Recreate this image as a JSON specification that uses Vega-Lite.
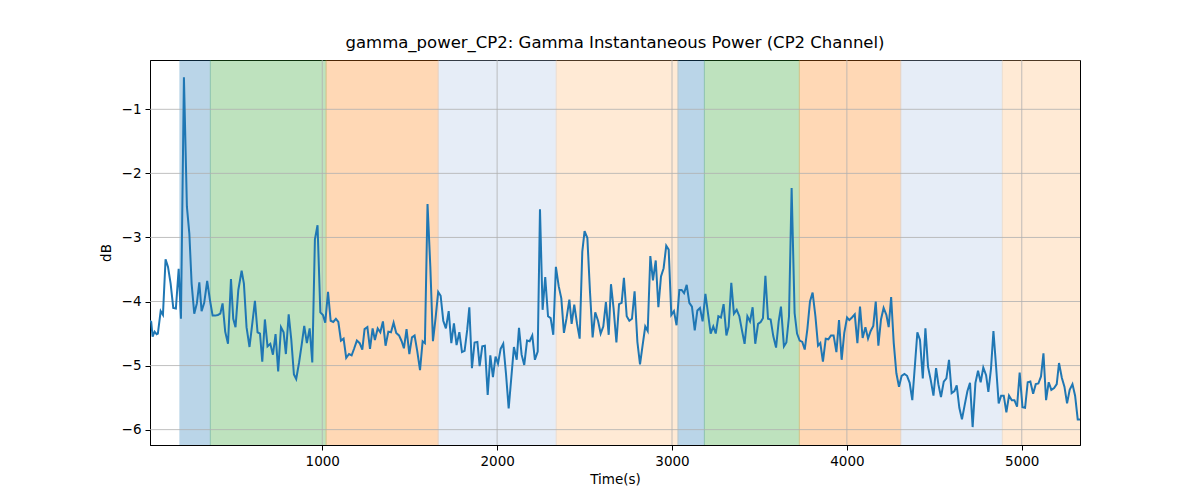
{
  "$schema": "https://vega.github.io/schema/vega-lite/v6.json",
  "width": 930,
  "height": 385,
  "autosize": {"type": "none"},
  "padding": {"left": 150, "top": 60, "right": 120, "bottom": 55},
  "background": "white",
  "title": {"text": "gamma_power_CP2: Gamma Instantaneous Power (CP2 Channel)", "fontSize": 16.5, "fontWeight": "normal", "font": "DejaVu Sans", "color": "black", "offset": 8},
  "config": {
    "font": "DejaVu Sans",
    "view": {"stroke": "black", "strokeWidth": 1},
    "axis": {
      "labelFont": "DejaVu Sans", "labelFontSize": 13.5, "labelColor": "black",
      "titleFont": "DejaVu Sans", "titleFontSize": 13.5, "titleFontWeight": "normal", "titleColor": "black",
      "tickColor": "black", "tickSize": 5, "labelPadding": 4,
      "domainColor": "black", "grid": false
    }
  },
  "datasets": {
    "spans": [
      {"start": 186, "end": 360, "phase": "a"},
      {"start": 360, "end": 1022, "phase": "b"},
      {"start": 1022, "end": 1663, "phase": "c"},
      {"start": 1663, "end": 2338, "phase": "d"},
      {"start": 2338, "end": 3034, "phase": "e"},
      {"start": 3034, "end": 3185, "phase": "a"},
      {"start": 3185, "end": 3728, "phase": "b"},
      {"start": 3728, "end": 4308, "phase": "c"},
      {"start": 4308, "end": 4889, "phase": "d"},
      {"start": 4889, "end": 5333, "phase": "e"}
    ],
    "xgrid": [{"t": 1000}, {"t": 2000}, {"t": 3000}, {"t": 4000}, {"t": 5000}],
    "ygrid": [{"db": -6}, {"db": -5}, {"db": -4}, {"db": -3}, {"db": -2}, {"db": -1}],
    "power": [
      {"t": 15, "db": -4.30}, {"t": 22, "db": -4.32}, {"t": 30, "db": -4.55}, {"t": 41, "db": -4.47}, {"t": 53, "db": -4.51},
      {"t": 60, "db": -4.50}, {"t": 76, "db": -4.15}, {"t": 89, "db": -4.21}, {"t": 104, "db": -3.34}, {"t": 118, "db": -3.46},
      {"t": 133, "db": -3.72}, {"t": 148, "db": -4.10}, {"t": 163, "db": -4.11}, {"t": 179, "db": -3.49}, {"t": 192, "db": -4.27},
      {"t": 209, "db": -0.50}, {"t": 226, "db": -2.52}, {"t": 240, "db": -2.94}, {"t": 253, "db": -3.72}, {"t": 268, "db": -4.19},
      {"t": 283, "db": -4.03}, {"t": 297, "db": -3.70}, {"t": 310, "db": -4.15}, {"t": 325, "db": -4.02}, {"t": 342, "db": -3.68},
      {"t": 358, "db": -3.98}, {"t": 373, "db": -4.22}, {"t": 388, "db": -4.22}, {"t": 403, "db": -4.21}, {"t": 417, "db": -4.19},
      {"t": 430, "db": -4.03}, {"t": 445, "db": -4.47}, {"t": 461, "db": -4.66}, {"t": 478, "db": -3.65}, {"t": 491, "db": -4.27},
      {"t": 504, "db": -4.40}, {"t": 520, "db": -3.82}, {"t": 539, "db": -3.52}, {"t": 552, "db": -3.72}, {"t": 567, "db": -4.40},
      {"t": 584, "db": -4.71}, {"t": 600, "db": -4.34}, {"t": 615, "db": -3.99}, {"t": 630, "db": -4.48}, {"t": 644, "db": -4.50},
      {"t": 657, "db": -4.94}, {"t": 672, "db": -4.28}, {"t": 687, "db": -4.70}, {"t": 703, "db": -4.66}, {"t": 718, "db": -4.83},
      {"t": 733, "db": -4.51}, {"t": 748, "db": -5.09}, {"t": 764, "db": -4.40}, {"t": 779, "db": -4.48}, {"t": 792, "db": -4.82},
      {"t": 808, "db": -4.20}, {"t": 823, "db": -4.60}, {"t": 838, "db": -5.14}, {"t": 851, "db": -5.21}, {"t": 867, "db": -4.96},
      {"t": 882, "db": -4.68}, {"t": 897, "db": -4.38}, {"t": 912, "db": -4.65}, {"t": 928, "db": -4.42}, {"t": 943, "db": -4.95},
      {"t": 958, "db": -3.03}, {"t": 973, "db": -2.81}, {"t": 989, "db": -4.17}, {"t": 1004, "db": -4.21}, {"t": 1017, "db": -4.33},
      {"t": 1033, "db": -3.85}, {"t": 1048, "db": -4.30}, {"t": 1063, "db": -4.32}, {"t": 1078, "db": -4.27}, {"t": 1092, "db": -4.32},
      {"t": 1107, "db": -4.61}, {"t": 1122, "db": -4.58}, {"t": 1137, "db": -4.88}, {"t": 1153, "db": -4.82}, {"t": 1168, "db": -4.84},
      {"t": 1183, "db": -4.73}, {"t": 1198, "db": -4.61}, {"t": 1214, "db": -4.65}, {"t": 1229, "db": -4.75}, {"t": 1242, "db": -4.43},
      {"t": 1258, "db": -4.40}, {"t": 1273, "db": -4.74}, {"t": 1288, "db": -4.42}, {"t": 1301, "db": -4.60}, {"t": 1317, "db": -4.42},
      {"t": 1332, "db": -4.48}, {"t": 1347, "db": -4.31}, {"t": 1362, "db": -4.69}, {"t": 1378, "db": -4.47}, {"t": 1393, "db": -4.48},
      {"t": 1408, "db": -4.33}, {"t": 1423, "db": -4.49}, {"t": 1439, "db": -4.53}, {"t": 1454, "db": -4.62}, {"t": 1467, "db": -4.73},
      {"t": 1482, "db": -4.43}, {"t": 1498, "db": -4.82}, {"t": 1513, "db": -4.56}, {"t": 1528, "db": -4.53}, {"t": 1543, "db": -4.77},
      {"t": 1559, "db": -5.07}, {"t": 1574, "db": -4.62}, {"t": 1587, "db": -4.65}, {"t": 1602, "db": -2.48}, {"t": 1618, "db": -3.46},
      {"t": 1633, "db": -4.62}, {"t": 1648, "db": -4.26}, {"t": 1663, "db": -3.85}, {"t": 1677, "db": -3.91}, {"t": 1692, "db": -4.30},
      {"t": 1707, "db": -4.42}, {"t": 1723, "db": -4.15}, {"t": 1738, "db": -4.65}, {"t": 1753, "db": -4.34}, {"t": 1768, "db": -4.68},
      {"t": 1784, "db": -4.48}, {"t": 1799, "db": -4.79}, {"t": 1814, "db": -4.77}, {"t": 1829, "db": -4.44}, {"t": 1841, "db": -4.09},
      {"t": 1856, "db": -5.04}, {"t": 1871, "db": -4.64}, {"t": 1887, "db": -4.63}, {"t": 1900, "db": -5.01}, {"t": 1915, "db": -4.70},
      {"t": 1930, "db": -4.69}, {"t": 1946, "db": -5.46}, {"t": 1961, "db": -4.84}, {"t": 1976, "db": -5.18}, {"t": 1991, "db": -4.86},
      {"t": 2005, "db": -4.97}, {"t": 2020, "db": -4.74}, {"t": 2035, "db": -4.66}, {"t": 2051, "db": -5.14}, {"t": 2066, "db": -5.67},
      {"t": 2081, "db": -5.19}, {"t": 2096, "db": -4.71}, {"t": 2112, "db": -4.91}, {"t": 2125, "db": -4.41}, {"t": 2140, "db": -4.83},
      {"t": 2155, "db": -4.99}, {"t": 2171, "db": -4.61}, {"t": 2186, "db": -4.62}, {"t": 2201, "db": -4.53}, {"t": 2216, "db": -4.91},
      {"t": 2232, "db": -4.78}, {"t": 2245, "db": -2.56}, {"t": 2260, "db": -4.13}, {"t": 2275, "db": -3.62}, {"t": 2291, "db": -4.23},
      {"t": 2306, "db": -4.26}, {"t": 2321, "db": -4.52}, {"t": 2336, "db": -3.46}, {"t": 2352, "db": -3.76}, {"t": 2367, "db": -3.95},
      {"t": 2382, "db": -4.49}, {"t": 2397, "db": -4.26}, {"t": 2413, "db": -3.97}, {"t": 2426, "db": -4.35}, {"t": 2441, "db": -4.05},
      {"t": 2457, "db": -4.35}, {"t": 2472, "db": -4.58}, {"t": 2487, "db": -3.22}, {"t": 2500, "db": -2.90}, {"t": 2516, "db": -3.01},
      {"t": 2531, "db": -3.85}, {"t": 2546, "db": -4.56}, {"t": 2561, "db": -4.17}, {"t": 2577, "db": -4.30}, {"t": 2592, "db": -4.50},
      {"t": 2607, "db": -4.39}, {"t": 2622, "db": -4.01}, {"t": 2638, "db": -4.52}, {"t": 2651, "db": -3.73}, {"t": 2666, "db": -4.11},
      {"t": 2682, "db": -4.64}, {"t": 2697, "db": -4.04}, {"t": 2712, "db": -4.02}, {"t": 2725, "db": -3.63}, {"t": 2741, "db": -4.23},
      {"t": 2756, "db": -4.30}, {"t": 2771, "db": -4.27}, {"t": 2786, "db": -3.84}, {"t": 2802, "db": -4.63}, {"t": 2817, "db": -4.98},
      {"t": 2832, "db": -4.68}, {"t": 2847, "db": -4.39}, {"t": 2861, "db": -4.46}, {"t": 2876, "db": -3.29}, {"t": 2891, "db": -3.67},
      {"t": 2907, "db": -3.36}, {"t": 2922, "db": -4.09}, {"t": 2937, "db": -3.61}, {"t": 2952, "db": -3.48}, {"t": 2967, "db": -3.13},
      {"t": 2981, "db": -3.19}, {"t": 2996, "db": -4.21}, {"t": 3011, "db": -4.15}, {"t": 3026, "db": -4.37}, {"t": 3042, "db": -3.82},
      {"t": 3055, "db": -3.82}, {"t": 3069, "db": -3.87}, {"t": 3084, "db": -3.74}, {"t": 3099, "db": -4.02}, {"t": 3114, "db": -4.08},
      {"t": 3130, "db": -4.45}, {"t": 3145, "db": -4.14}, {"t": 3160, "db": -4.10}, {"t": 3175, "db": -4.31}, {"t": 3191, "db": -3.88},
      {"t": 3206, "db": -4.19}, {"t": 3221, "db": -4.50}, {"t": 3236, "db": -4.39}, {"t": 3250, "db": -4.50}, {"t": 3265, "db": -4.23},
      {"t": 3280, "db": -4.25}, {"t": 3295, "db": -4.04}, {"t": 3311, "db": -4.53}, {"t": 3324, "db": -4.39}, {"t": 3339, "db": -3.71},
      {"t": 3354, "db": -4.19}, {"t": 3370, "db": -4.13}, {"t": 3385, "db": -4.23}, {"t": 3400, "db": -4.45}, {"t": 3415, "db": -4.66},
      {"t": 3431, "db": -4.23}, {"t": 3446, "db": -4.31}, {"t": 3461, "db": -4.09}, {"t": 3476, "db": -4.66}, {"t": 3492, "db": -4.35},
      {"t": 3507, "db": -4.32}, {"t": 3520, "db": -4.26}, {"t": 3534, "db": -3.60}, {"t": 3549, "db": -4.27}, {"t": 3564, "db": -4.28},
      {"t": 3579, "db": -4.54}, {"t": 3595, "db": -4.72}, {"t": 3610, "db": -4.31}, {"t": 3623, "db": -4.08}, {"t": 3640, "db": -4.70},
      {"t": 3654, "db": -4.64}, {"t": 3669, "db": -4.23}, {"t": 3684, "db": -2.23}, {"t": 3701, "db": -4.18}, {"t": 3715, "db": -4.50},
      {"t": 3730, "db": -4.61}, {"t": 3745, "db": -4.63}, {"t": 3759, "db": -4.75}, {"t": 3774, "db": -4.43}, {"t": 3789, "db": -4.00},
      {"t": 3804, "db": -3.86}, {"t": 3820, "db": -4.23}, {"t": 3835, "db": -4.69}, {"t": 3848, "db": -4.65}, {"t": 3863, "db": -4.94},
      {"t": 3879, "db": -4.58}, {"t": 3894, "db": -4.59}, {"t": 3909, "db": -4.53}, {"t": 3924, "db": -4.53}, {"t": 3940, "db": -4.79},
      {"t": 3955, "db": -4.29}, {"t": 3970, "db": -4.91}, {"t": 3985, "db": -4.49}, {"t": 4001, "db": -4.25}, {"t": 4014, "db": -4.29},
      {"t": 4029, "db": -4.25}, {"t": 4045, "db": -4.20}, {"t": 4060, "db": -4.65}, {"t": 4075, "db": -4.08}, {"t": 4090, "db": -4.57},
      {"t": 4106, "db": -4.40}, {"t": 4121, "db": -4.58}, {"t": 4136, "db": -4.46}, {"t": 4151, "db": -4.38}, {"t": 4165, "db": -4.00},
      {"t": 4180, "db": -4.69}, {"t": 4195, "db": -4.28}, {"t": 4210, "db": -4.10}, {"t": 4226, "db": -4.21}, {"t": 4239, "db": -4.40},
      {"t": 4253, "db": -3.93}, {"t": 4268, "db": -4.65}, {"t": 4283, "db": -5.12}, {"t": 4298, "db": -5.33}, {"t": 4313, "db": -5.16},
      {"t": 4329, "db": -5.13}, {"t": 4344, "db": -5.16}, {"t": 4359, "db": -5.27}, {"t": 4374, "db": -5.54}, {"t": 4390, "db": -4.96},
      {"t": 4403, "db": -4.48}, {"t": 4418, "db": -4.60}, {"t": 4434, "db": -5.20}, {"t": 4449, "db": -4.42}, {"t": 4464, "db": -5.02},
      {"t": 4479, "db": -5.22}, {"t": 4495, "db": -5.47}, {"t": 4510, "db": -5.04}, {"t": 4523, "db": -5.29}, {"t": 4538, "db": -5.49},
      {"t": 4554, "db": -5.25}, {"t": 4569, "db": -5.20}, {"t": 4584, "db": -4.91}, {"t": 4599, "db": -5.43}, {"t": 4615, "db": -5.40},
      {"t": 4628, "db": -5.31}, {"t": 4643, "db": -5.66}, {"t": 4658, "db": -5.84}, {"t": 4674, "db": -5.61}, {"t": 4689, "db": -5.40},
      {"t": 4704, "db": -5.27}, {"t": 4719, "db": -5.96}, {"t": 4735, "db": -5.27}, {"t": 4750, "db": -5.08}, {"t": 4765, "db": -5.26},
      {"t": 4780, "db": -5.03}, {"t": 4796, "db": -5.15}, {"t": 4809, "db": -5.41}, {"t": 4824, "db": -5.05}, {"t": 4838, "db": -4.46},
      {"t": 4853, "db": -5.01}, {"t": 4868, "db": -5.59}, {"t": 4882, "db": -5.47}, {"t": 4897, "db": -5.47}, {"t": 4912, "db": -5.73},
      {"t": 4927, "db": -5.47}, {"t": 4943, "db": -5.54}, {"t": 4958, "db": -5.54}, {"t": 4973, "db": -5.64}, {"t": 4988, "db": -5.11},
      {"t": 5004, "db": -5.65}, {"t": 5019, "db": -5.66}, {"t": 5034, "db": -5.26}, {"t": 5049, "db": -5.25}, {"t": 5065, "db": -5.44},
      {"t": 5080, "db": -5.29}, {"t": 5095, "db": -5.28}, {"t": 5110, "db": -5.17}, {"t": 5124, "db": -4.81}, {"t": 5139, "db": -5.54},
      {"t": 5154, "db": -5.26}, {"t": 5169, "db": -5.38}, {"t": 5185, "db": -5.35}, {"t": 5200, "db": -5.29}, {"t": 5213, "db": -4.96},
      {"t": 5229, "db": -5.19}, {"t": 5244, "db": -5.33}, {"t": 5259, "db": -5.59}, {"t": 5274, "db": -5.38}, {"t": 5290, "db": -5.29},
      {"t": 5305, "db": -5.47}, {"t": 5320, "db": -5.84}, {"t": 5333, "db": -5.84}
    ]
  },
  "layer": [
    {
      "data": {"name": "spans"},
      "mark": {"type": "rect", "opacity": 0.3, "strokeWidth": 1, "clip": true},
      "encoding": {
        "x": {"field": "start", "type": "quantitative", "scale": {"domain": [15, 5333], "nice": false, "zero": false}},
        "x2": {"field": "end"},
        "fill": {"field": "phase", "type": "nominal", "legend": null,
          "scale": {"domain": ["a", "b", "c", "d", "e"], "range": ["#1f77b4", "#2ca02c", "#ff7f0e", "#aec7e8", "#ffbb78"]}},
        "stroke": {"field": "phase", "type": "nominal", "legend": null,
          "scale": {"domain": ["a", "b", "c", "d", "e"], "range": ["#1f77b4", "#2ca02c", "#ff7f0e", "#aec7e8", "#ffbb78"]}}
      }
    },
    {
      "data": {"name": "xgrid"},
      "mark": {"type": "rule", "color": "#b0b0b0", "strokeWidth": 0.8},
      "encoding": {"x": {"field": "t", "type": "quantitative"}}
    },
    {
      "data": {"name": "ygrid"},
      "mark": {"type": "rule", "color": "#b0b0b0", "strokeWidth": 0.8},
      "encoding": {"y": {"field": "db", "type": "quantitative"}}
    },
    {
      "data": {"name": "power"},
      "mark": {"type": "line", "color": "#1f77b4", "strokeWidth": 2, "clip": true},
      "encoding": {
        "x": {"field": "t", "type": "quantitative", "title": "Time(s)",
          "scale": {"domain": [15, 5333], "nice": false, "zero": false},
          "axis": {"values": [1000, 2000, 3000, 4000, 5000], "format": "d", "titlePadding": 5}},
        "y": {"field": "db", "type": "quantitative", "title": "dB",
          "scale": {"domain": [-6.24, -0.23], "nice": false, "zero": false},
          "axis": {"values": [-6, -5, -4, -3, -2, -1], "format": "d", "titlePadding": 8}}
      }
    }
  ]
}
